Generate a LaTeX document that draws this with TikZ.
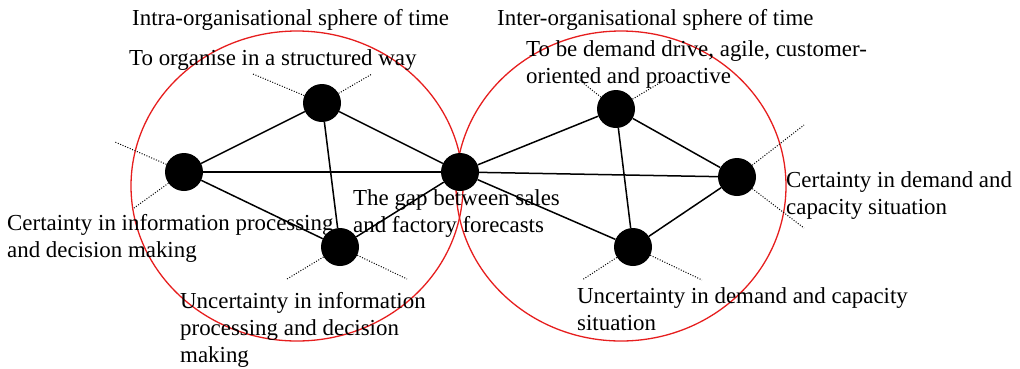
\documentclass[tikz,border=0pt]{standalone}
\usepackage{fontspec}
\setmainfont{Liberation Serif}
\usepackage{xcolor}
\usetikzlibrary{positioning}
\definecolor{sphereRed}{RGB}{230,30,30}

\begin{document}
\begin{tikzpicture}[
    x=1pt, y=-1pt,
    dot/.style={circle, fill=black, inner sep=0pt, minimum size=38pt},
    lbl/.style={anchor=base west, inner sep=0pt, align=left, font=\fontsize{22.9}{27}\selectfont},
    link/.style={line width=1.5pt},
    loose/.style={line width=1pt, dash pattern=on 1pt off 1.6pt},
    sphere/.style={draw=sphereRed, line width=1.3pt}
]
    \useasboundingbox (0,0) rectangle (1020,368);

    \draw[sphere] (297,186) ellipse [x radius=166pt, y radius=155pt];
    \draw[sphere] (621,186) ellipse [x radius=165pt, y radius=155pt];

    \node[dot] (certInfo) at (184,172) {};
    \node[dot] (organise) at (322,103) {};
    \node[dot] (uncertInfo) at (340,247) {};
    \node[dot] (gap) at (460,172) {};
    \node[dot] (demandDriven) at (616,109) {};
    \node[dot] (certDemand) at (737,177) {};
    \node[dot] (uncertDemand) at (633,247) {};

    \coordinate (certInfoA) at (115,142);
    \coordinate (certInfoB) at (134,208);
    \coordinate (organiseA) at (253,74);
    \coordinate (organiseB) at (372,74);
    \coordinate (uncertInfoA) at (287,279);
    \coordinate (uncertInfoB) at (407,279);
    \coordinate (demandDrivenA) at (578,79);
    \coordinate (demandDrivenB) at (668,78);
    \coordinate (certDemandA) at (804,125);
    \coordinate (certDemandB) at (804,228);
    \coordinate (uncertDemandA) at (582,280);
    \coordinate (uncertDemandB) at (702,280);

    \draw[loose] (certInfo) -- (certInfoA);
    \draw[loose] (certInfo) -- (certInfoB);
    \draw[loose] (organise) -- (organiseA);
    \draw[loose] (organise) -- (organiseB);
    \draw[loose] (uncertInfo) -- (uncertInfoA);
    \draw[loose] (uncertInfo) -- (uncertInfoB);
    \draw[loose] (demandDriven) -- (demandDrivenA);
    \draw[loose] (demandDriven) -- (demandDrivenB);
    \draw[loose] (certDemand) -- (certDemandA);
    \draw[loose] (certDemand) -- (certDemandB);
    \draw[loose] (uncertDemand) -- (uncertDemandA);
    \draw[loose] (uncertDemand) -- (uncertDemandB);

    \draw[link] (certInfo) -- (organise);
    \draw[link] (certInfo) -- (gap);
    \draw[link] (certInfo) -- (uncertInfo);
    \draw[link] (organise) -- (uncertInfo);
    \draw[link] (organise) -- (gap);
    \draw[link] (uncertInfo) -- (gap);
    \draw[link] (gap) -- (demandDriven);
    \draw[link] (gap) -- (certDemand);
    \draw[link] (gap) -- (uncertDemand);
    \draw[link] (demandDriven) -- (certDemand);
    \draw[link] (demandDriven) -- (uncertDemand);
    \draw[link] (uncertDemand) -- (certDemand);

    \node[lbl] (intraSphere) at (132,25) {Intra-organisational sphere of time};
    \node[lbl] (interSphere) at (497,25) {Inter-organisational sphere of time};
    \node[lbl] (lblOrganise) at (129,65) {To organise in a structured way};
    \node[lbl] (lblDemandDriven) at (526,83) {To be demand drive, agile, customer-\\oriented and proactive};
    \node[lbl] (lblCertInfo) at (7,257) {Certainty in information processing\\and decision making};
    \node[lbl] (lblGap) at (353,232) {The gap between sales\\and factory forecasts};
    \node[lbl] (lblUncertInfo) at (180,362) {Uncertainty in information\\processing and decision\\making};
    \node[lbl] (lblCertDemand) at (786,214) {Certainty in demand and\\capacity situation};
    \node[lbl] (lblUncertDemand) at (577,330) {Uncertainty in demand and capacity\\situation};
\end{tikzpicture}
\end{document}
